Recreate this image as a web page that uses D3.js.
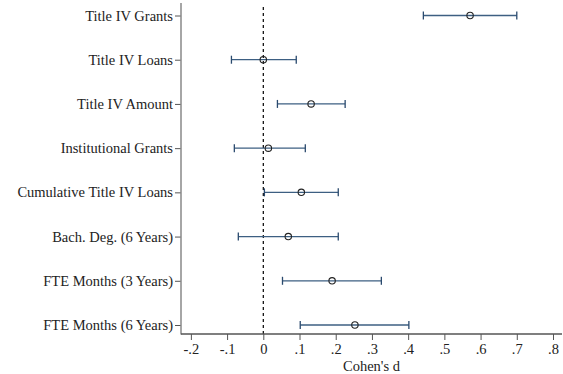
<!DOCTYPE html>
<html><head><meta charset="utf-8">
<script src="https://cdn.jsdelivr.net/npm/d3@7"></script>
<style>body{margin:0;background:#fff}svg{display:block}</style>
</head><body><svg id="c" width="563" height="374"></svg>
<script>
const categories = ["Title IV Grants","Title IV Loans","Title IV Amount","Institutional Grants","Cumulative Title IV Loans","Bach. Deg. (6 Years)","FTE Months (3 Years)","FTE Months (6 Years)"];
const estimates = [0.571, 0.0, 0.132, 0.014, 0.105, 0.069, 0.190, 0.253];
const lower = [0.442, -0.088, 0.039, -0.080, 0.003, -0.069, 0.053, 0.102];
const upper = [0.700, 0.091, 0.226, 0.116, 0.207, 0.207, 0.326, 0.402];
const xTicks = [-0.2,-0.1,0,0.1,0.2,0.3,0.4,0.5,0.6,0.7,0.8];
const xTickLabels = ["-.2","-.1","0",".1",".2",".3",".4",".5",".6",".7",".8"];
const xTitle = "Cohen's d";

(function(){
const svg = d3.select("#c");
const font = "'Liberation Serif','Times New Roman',serif";
const x = d3.scaleLinear().domain([0,0.8]).range([263.3,553]);
const y = d3.scalePoint().domain(categories).range([15.5,325]);
const mLeft = 181, mBottom = 334, mTop = 3, mRight = 562;

svg.append("line").attr("x1",x(0)).attr("x2",x(0)).attr("y1",7).attr("y2",mBottom)
  .attr("stroke","#000").attr("stroke-width",1.2).attr("stroke-dasharray","3,3");

const g = svg.append("g");
categories.forEach((c,i)=>{
  const yy = y(c);
  g.append("line").attr("x1",x(lower[i])).attr("x2",x(upper[i])).attr("y1",yy).attr("y2",yy)
    .attr("stroke","#3d5f82").attr("stroke-width",1.3);
  [lower[i],upper[i]].forEach(v=>{
    g.append("line").attr("x1",x(v)).attr("x2",x(v)).attr("y1",yy-4).attr("y2",yy+4)
      .attr("stroke","#2a4a6e").attr("stroke-width",1.3);
  });
  g.append("circle").attr("cx",x(estimates[i])).attr("cy",yy).attr("r",3.2)
    .attr("fill","none").attr("stroke","#222").attr("stroke-width",1.1);
});

const ya = svg.append("g").attr("transform",`translate(${mLeft},0)`)
  .call(d3.axisLeft(y).tickSize(6).tickPadding(2));
ya.select(".domain").remove();
ya.append("line").attr("x1",0).attr("x2",0).attr("y1",mTop).attr("y2",mBottom+0.5).attr("stroke","#888").attr("stroke-width",1.5);
ya.selectAll(".tick line").attr("stroke","#555");
ya.selectAll(".tick text").attr("font-family",font).attr("font-size",14.5).attr("fill","#222");

const xa = svg.append("g").attr("transform",`translate(0,${mBottom})`)
  .call(d3.axisBottom(x).tickValues(xTicks).tickFormat((d,i)=>xTickLabels[i]).tickSize(6).tickPadding(4));
xa.select(".domain").remove();
xa.append("line").attr("x1",mLeft).attr("x2",mRight).attr("y1",0).attr("y2",0).attr("stroke","#555").attr("stroke-width",1.5);
xa.selectAll(".tick line").attr("stroke","#555");
xa.selectAll(".tick text").attr("font-family",font).attr("font-size",14.5).attr("fill","#222");

svg.append("text").attr("x",(mLeft+mRight)/2).attr("y",371).attr("text-anchor","middle")
  .attr("font-family",font).attr("font-size",14.5).attr("fill","#222").text(xTitle);
})();
</script></body></html>
